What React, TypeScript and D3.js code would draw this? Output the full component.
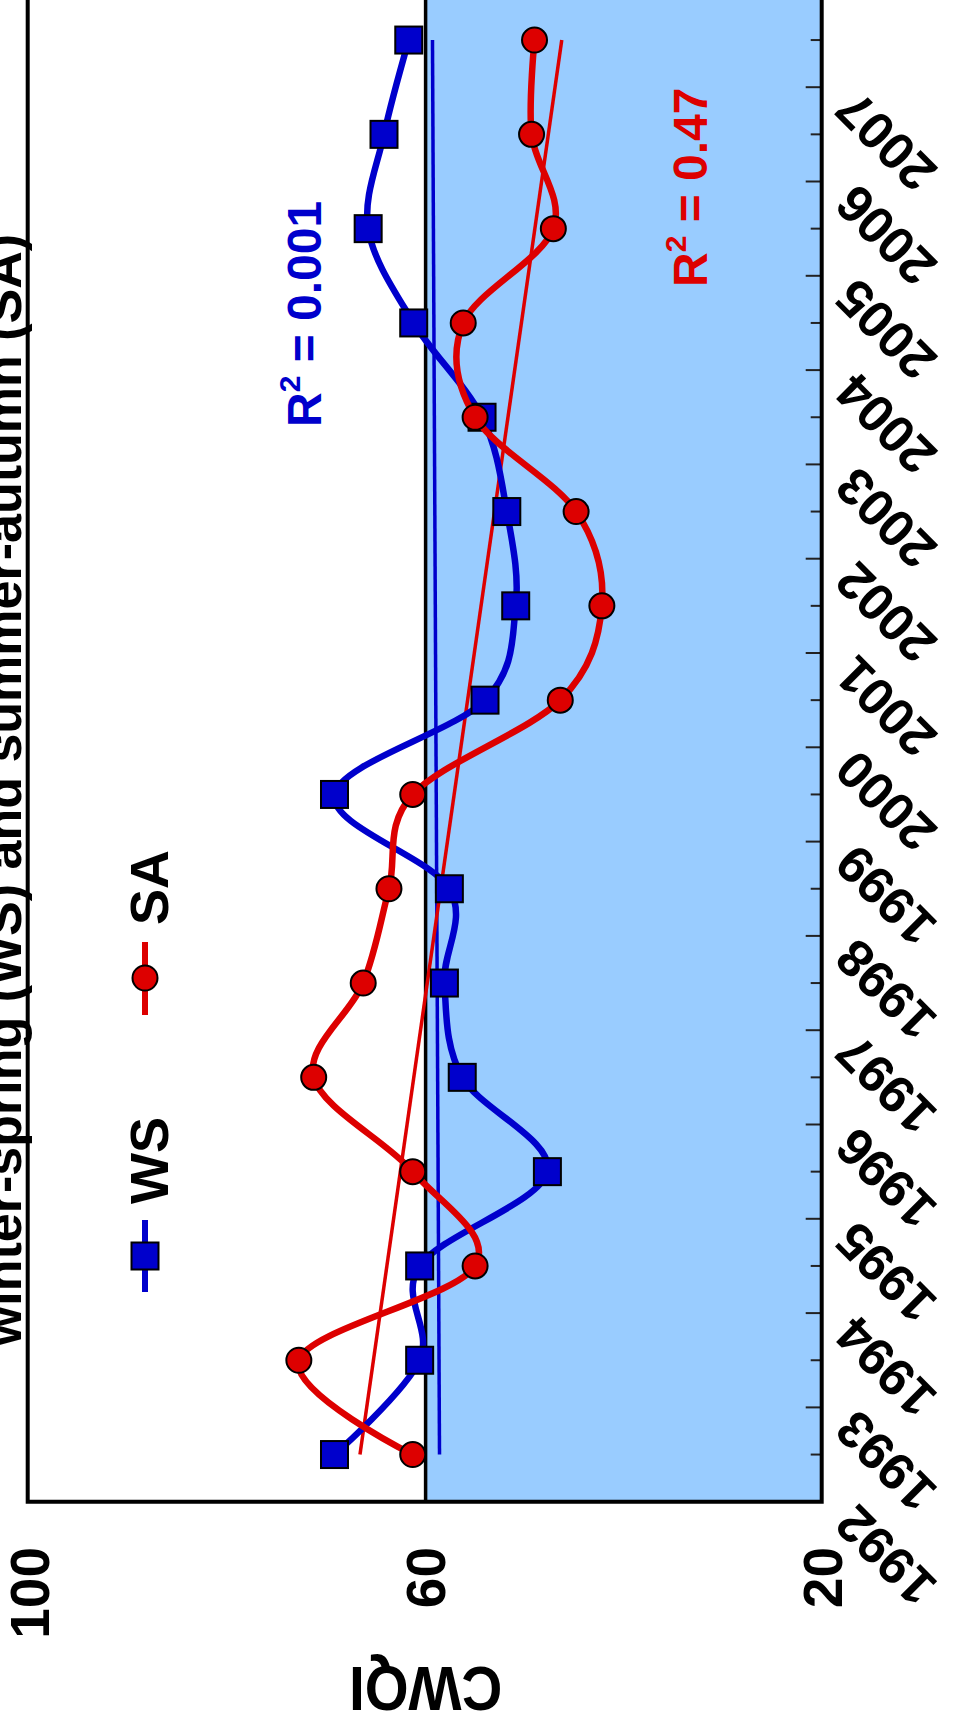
import React from 'react';
import * as d3 from 'd3';

// Annual CWQI for the two seasons
const years = [1992, 1993, 1994, 1995, 1996, 1997, 1998, 1999, 2000, 2001, 2002, 2003, 2004, 2005, 2006, 2007];
const wsValues = [69.2, 60.6, 60.6, 47.7, 56.3, 58.1, 57.6, 69.2, 54.0, 50.9, 51.8, 54.3, 61.2, 65.8, 64.2, 61.7];
const saValues = [61.3, 72.8, 55.0, 61.3, 71.3, 66.3, 63.7, 61.3, 46.4, 42.2, 44.8, 55.0, 56.2, 47.1, 49.3, 49.0];
const valueTicks = [100, 60, 20];
const poorThreshold = 60;
const seriesNames = ['WS', 'SA'];
const r2Texts = ['0.001', '0.47'];
const titleText = 'winter-spring (WS) and summer-autumn (SA)';
const axisTitle = 'CWQI';

const W = 955;
const H = 1729;
const BLUE = '#0000CC';
const RED = '#DD0000';
const SHADE = '#99CCFF';
const FONT = '"Liberation Sans", Arial, Helvetica, sans-serif';

// The chart is laid out in an unrotated frame (years across, CWQI up)
// and the whole group is turned a quarter turn counter-clockwise.
const plotLeft = 227.3;
const plotRight = 1736.1;
const plotTop = 29.5;
const plotBottom = 821.7;

const xScale = d3.scaleLinear().domain([1992, 2008]).range([plotLeft, plotRight]);
const yScale = d3.scaleLinear().domain([20, 100]).range([plotBottom, plotTop]);

type Pt = { x: number; v: number };
const toPoints = (vals: number[]): Pt[] => vals.map((v, i) => ({ x: years[i] + 0.5, v }));

function regression(pts: Pt[]) {
  const mx = d3.mean(pts, (p) => p.x) as number;
  const my = d3.mean(pts, (p) => p.v) as number;
  const sxy = d3.sum(pts, (p) => (p.x - mx) * (p.v - my));
  const sxx = d3.sum(pts, (p) => (p.x - mx) ** 2);
  const slope = sxy / sxx;
  const intercept = my - slope * mx;
  return (x: number) => intercept + slope * x;
}

const smooth = d3
  .line<Pt>()
  .x((p) => xScale(p.x))
  .y((p) => yScale(p.v))
  .curve(d3.curveCardinal.tension(0));

export default function App() {
  const ws = toPoints(wsValues);
  const sa = toPoints(saValues);
  const wsFit = regression(ws);
  const saFit = regression(sa);
  const x0 = ws[0].x;
  const x1 = ws[ws.length - 1].x;

  const tickPositions = d3.range(1992, 2008.01, 0.5);
  const sq = 27;
  const cr = 12.5;

  return (
    <svg
      width={W}
      height={H}
      style={{ position: 'absolute', left: 0, top: 0, background: '#fff' }}
      fontFamily={FONT}
      fontWeight="bold"
    >
      <g transform={`translate(0,${H}) rotate(-90)`}>
        {/* shaded band below the threshold */}
        <rect
          x={plotLeft}
          y={yScale(poorThreshold)}
          width={plotRight - plotLeft}
          height={plotBottom - yScale(poorThreshold)}
          fill={SHADE}
        />
        <line
          x1={plotLeft}
          x2={plotRight}
          y1={yScale(poorThreshold)}
          y2={yScale(poorThreshold)}
          stroke="#000"
          strokeWidth={3.5}
        />

        {/* year ticks */}
        {tickPositions.map((t) => {
          const major = Math.abs(t - Math.round(t)) < 1e-6;
          return (
            <line
              key={t}
              x1={xScale(t)}
              x2={xScale(t)}
              y1={plotBottom}
              y2={plotBottom - (major ? 16 : 11)}
              stroke="#222"
              strokeWidth={2}
            />
          );
        })}

        {/* linear trends */}
        <line
          x1={xScale(x0)}
          y1={yScale(wsFit(x0))}
          x2={xScale(x1)}
          y2={yScale(wsFit(x1))}
          stroke={BLUE}
          strokeWidth={3.5}
        />
        <line
          x1={xScale(x0)}
          y1={yScale(saFit(x0))}
          x2={xScale(x1)}
          y2={yScale(saFit(x1))}
          stroke={RED}
          strokeWidth={3.5}
        />

        {/* WS series */}
        <path d={smooth(ws) || ''} fill="none" stroke={BLUE} strokeWidth={6.5} />
        {ws.map((p, i) => (
          <rect
            key={i}
            x={xScale(p.x) - sq / 2}
            y={yScale(p.v) - sq / 2}
            width={sq}
            height={sq}
            fill={BLUE}
            stroke="#000"
            strokeWidth={2}
          />
        ))}

        {/* SA series */}
        <path d={smooth(sa) || ''} fill="none" stroke={RED} strokeWidth={6.5} />
        {sa.map((p, i) => (
          <circle key={i} cx={xScale(p.x)} cy={yScale(p.v)} r={cr} fill={RED} stroke="#000" strokeWidth={2} />
        ))}

        {/* frame */}
        <path
          d={`M${plotRight},27.7 H${plotLeft} V${plotBottom} H${plotRight}`}
          fill="none"
          stroke="#000"
          strokeWidth={4}
        />

        {/* year labels */}
        {years.map((y) => (
          <text
            key={y}
            transform={`translate(${xScale(y)},${plotBottom + 36}) rotate(-45)`}
            textAnchor="end"
            fontSize={52}
            fill="#000"
          >
            {y}
          </text>
        ))}

        {/* CWQI labels */}
        {valueTicks.map((v) => (
          <text key={v} x={182} y={yScale(v)} dy="0.36em" textAnchor="end" fontSize={55} fill="#000">
            {v}
          </text>
        ))}

        <text
          transform={`translate(39,${yScale(60)}) rotate(-90) scale(0.97,1.08)`}
          textAnchor="middle"
          dy="0.36em"
          fontSize={58}
          fill="#000"
        >
          {axisTitle}
        </text>

        <text x={939} y={21} textAnchor="middle" fontSize={52} fill="#000">
          {titleText}
        </text>

        {/* legend */}
        <line x1={437} x2={509} y1={145} y2={145} stroke={BLUE} strokeWidth={6} />
        <rect x={473 - sq / 2} y={145 - sq / 2} width={sq} height={sq} fill={BLUE} stroke="#000" strokeWidth={2} />
        <text x={525} y={168} fontSize={54} fill="#000">
          {seriesNames[0]}
        </text>
        <line x1={714} x2={787} y1={145} y2={145} stroke={RED} strokeWidth={6} />
        <circle cx={751} cy={145} r={cr} fill={RED} stroke="#000" strokeWidth={2} />
        <text x={804} y={168} fontSize={54} fill="#000">
          {seriesNames[1]}
        </text>

        {/* goodness of fit */}
        <text x={1302} y={321} fontSize={48} fill={BLUE}>
          R
          <tspan fontSize={30} dy={-21}>
            2
          </tspan>
          <tspan dy={21}>{` = ${r2Texts[0]}`}</tspan>
        </text>
        <text x={1442} y={707} fontSize={48} fill={RED}>
          R
          <tspan fontSize={30} dy={-21}>
            2
          </tspan>
          <tspan dy={21}>{` = ${r2Texts[1]}`}</tspan>
        </text>
      </g>
    </svg>
  );
}
